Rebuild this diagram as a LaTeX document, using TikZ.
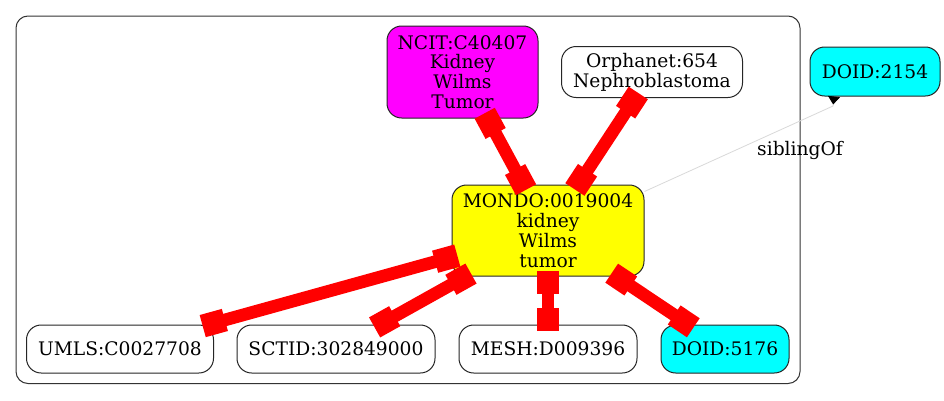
\documentclass[tikz,border=0pt]{standalone}
\usepackage{fontspec}
\setmainfont{DejaVu Serif}
\usetikzlibrary{arrows.meta,decorations.markings}
\definecolor{gvmag}{RGB}{255,0,255}
\definecolor{gvcyan}{RGB}{0,255,255}
\definecolor{gvyellow}{RGB}{255,255,0}
\definecolor{gvred}{RGB}{255,0,0}
\begin{document}
\begin{tikzpicture}[x=0.75pt,y=-0.75pt,
  nd/.style={draw=black!85, line width=0.75pt, rounded corners=11pt, inner sep=0pt,
    align=center, font=\fontsize{14pt}{14.85pt}\selectfont},
  redge/.style={draw=gvred, line width=9.5pt, postaction={decorate},
    decoration={markings,
      mark=at position 0 with {\fill[gvred] (-4.5pt,-8.6pt) rectangle (12.75pt,8.6pt);},
      mark=at position 0.9999 with {\fill[gvred] (-12.75pt,-8.6pt) rectangle (4.5pt,8.6pt);}}},
  sedge/.style={draw=black!15, line width=0.6pt,
    -{Triangle[reversed,length=6pt,width=9pt,color=black]}},
  lbl/.style={inner sep=0pt, font=\fontsize{14pt}{14.85pt}\selectfont}]
\useasboundingbox (0,0) rectangle (944,400);
\fill[white] (0,0) rectangle (944,400);
% cluster
\draw[black!80, line width=0.75pt, rounded corners=9pt] (16,16) rectangle (800,383.5);
% nodes
\node[nd, fill=gvmag, minimum width=113.25pt, minimum height=69pt] (ncit) at (462.5,72) {NCIT:C40407\\Kidney\\Wilms\\Tumor};
\node[nd, fill=white, minimum width=135.75pt, minimum height=38.25pt] (orph) at (652,72) {Orphanet:654\\Nephroblastoma};
\node[nd, fill=gvcyan, minimum width=97.5pt, minimum height=36.75pt] (doidA) at (875,71.5) {DOID:2154};
\node[nd, fill=gvyellow, minimum width=144pt, minimum height=68.25pt] (mondo) at (548,230.5) {MONDO:0019004\\kidney\\Wilms\\tumor};
\node[nd, fill=white, minimum width=140.25pt, minimum height=36pt] (umls) at (120,349) {UMLS:C0027708};
\node[nd, fill=white, minimum width=148.5pt, minimum height=36pt] (sctid) at (336,349) {SCTID:302849000};
\node[nd, fill=white, minimum width=133.5pt, minimum height=36pt] (mesh) at (548,349) {MESH:D009396};
\node[nd, fill=gvcyan, minimum width=96pt, minimum height=36pt] (doidB) at (725,349) {DOID:5176};
% sibling edge
\coordinate (sbend) at (833,106);
\draw[sedge] (mondo.22) -- (sbend) -- ([xshift=-30.75pt]doidA.south);
\node[lbl] (sib) at (800,150) {siblingOf};
% red edges
\draw[redge] (ncit) -- (mondo);
\draw[redge] (orph) -- (mondo);
\draw[redge] (mondo) -- (umls);
\draw[redge] (mondo) -- (sctid);
\draw[redge] (mondo) -- (mesh);
\draw[redge] (mondo) -- (doidB);
\end{tikzpicture}
\end{document}
